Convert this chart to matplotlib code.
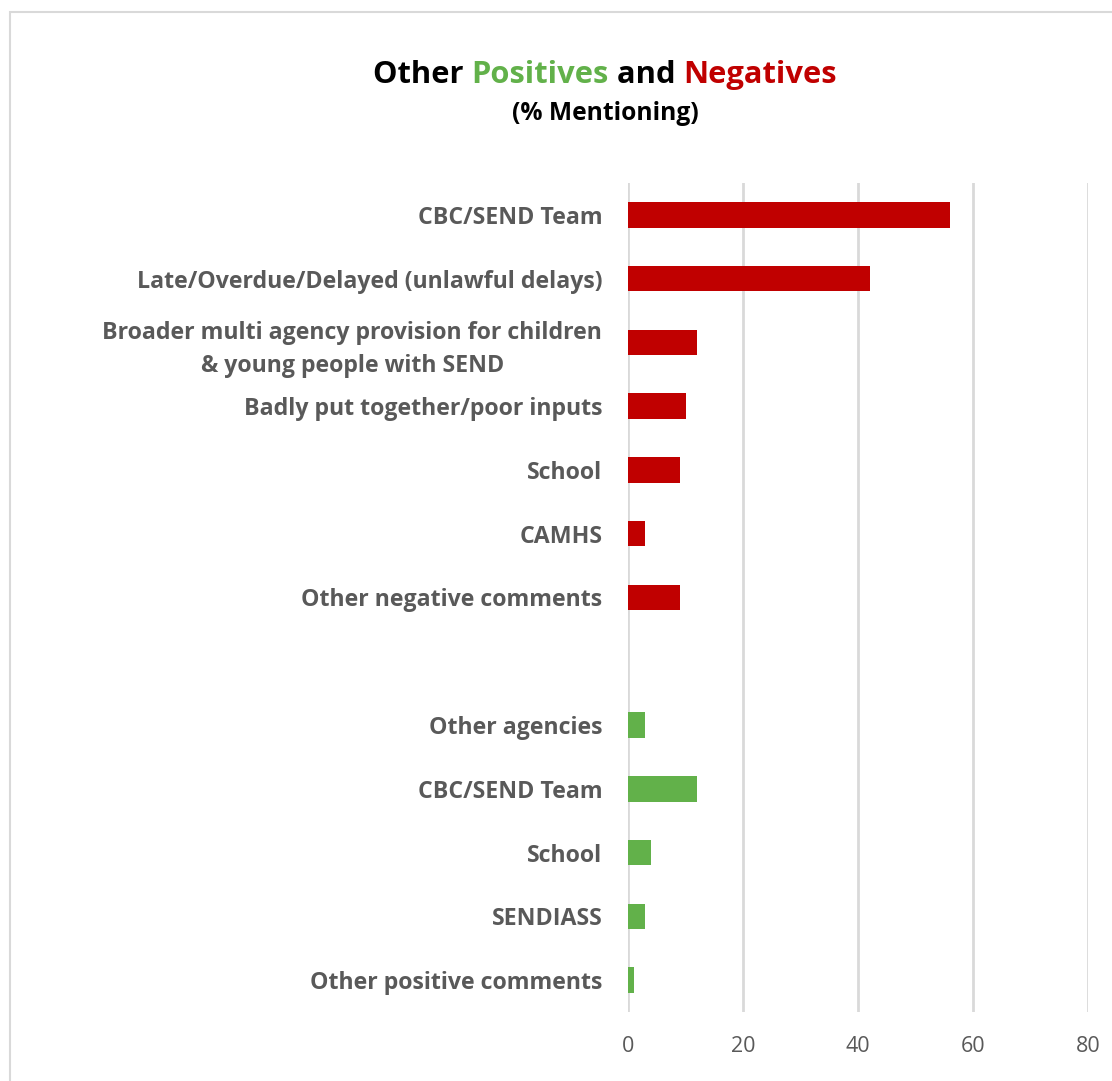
import matplotlib.pyplot as plt
from matplotlib.patches import Rectangle

plt.rcParams['font.family'] = ['Open Sans', 'DejaVu Sans']

# rows from top to bottom; the empty entry leaves a gap between the groups
labels = ['CBC/SEND Team',
          'Late/Overdue/Delayed (unlawful delays)',
          'Broader multi agency provision for children\n& young people with SEND',
          'Badly put together/poor inputs',
          'School',
          'CAMHS',
          'Other negative comments',
          '',
          'Other agencies',
          'CBC/SEND Team',
          'School',
          'SENDIASS',
          'Other positive comments']
values = [56, 42, 12, 10, 9, 3, 9, None, 3, 12, 4, 3, 1]
kinds = ['neg'] * 7 + [None] + ['pos'] * 5

red = '#C00000'
green = '#62B14A'
grey = '#595959'
colors = {'neg': red, 'pos': green}

fig = plt.figure(figsize=(11.12, 10.81), dpi=100)
ax = fig.add_axes([628 / 1112, 1 - 1012 / 1081, 460 / 1112, 829 / 1081])

ypos = list(range(len(labels)))
for y, v, k in zip(ypos, values, kinds):
    if v is None:
        continue
    ax.barh(y, v, height=0.4, color=colors[k], zorder=3)

ax.set_xlim(0, 80)
ax.set_ylim(len(labels) - 0.5, -0.5)
ax.set_xticks([0, 20, 40, 60, 80])
ax.set_yticks(ypos)
ax.set_yticklabels(labels, fontsize=16.7, fontweight='bold', color=grey,
                   linespacing=1.45)
for t in ax.get_yticklabels():
    t.set_multialignment('center')
ax.tick_params(axis='y', length=0, pad=18.5)
ax.tick_params(axis='x', length=0, labelsize=15.5, colors=grey, pad=17.5)
ax.grid(axis='x', color='#D9D9D9', linewidth=2, zorder=0)
for s in ax.spines.values():
    s.set_visible(False)

# chart frame
fig.patches.append(Rectangle((10 / 1112, -0.05), 1.2, 1 - 12 / 1081 + 0.05,
                             transform=fig.transFigure, fill=False,
                             edgecolor='#D9D9D9', linewidth=1.5))

# two-colour title built from separate pieces
parts = [('Other ', 'black'), ('Positives', green), (' and ', 'black'), ('Negatives', red)]
texts = []
for s, c in parts:
    t = fig.text(0, 1 - 75 / 1081, s, color=c, fontsize=22.2, fontweight='bold',
                 va='center', ha='left')
    texts.append(t)
fig.canvas.draw()
r = fig.canvas.get_renderer()
widths = [t.get_window_extent(r).width / fig.bbox.width for t in texts]
x = 605 / 1112 - sum(widths) / 2
for t, w in zip(texts, widths):
    t.set_x(x)
    x += w
fig.text(605 / 1112, 1 - 113 / 1081, '(% Mentioning)', fontsize=17.7,
         fontweight='bold', color='black', ha='center', va='center')

fig.savefig('out.png', dpi=100, facecolor='white')
